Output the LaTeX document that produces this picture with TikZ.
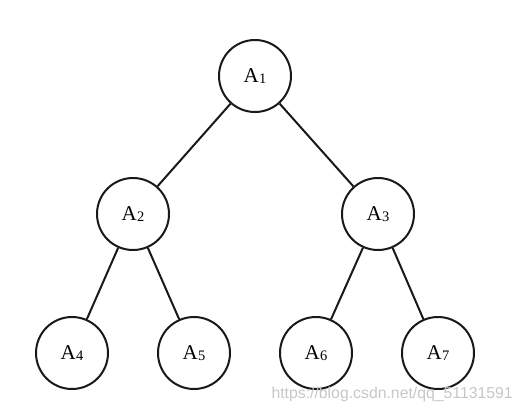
\documentclass[tikz,border=0pt]{standalone}
\usepackage{fontspec}
\setmainfont{Liberation Serif}
\newfontfamily\wmfont{Liberation Sans}
\begin{document}
\begin{tikzpicture}[x=1pt,y=-1pt,
  tnode/.style={circle,draw=black!90,line width=2pt,minimum size=72pt,inner sep=0pt,font=\fontsize{21}{22}\selectfont},
  edge/.style={draw=black!90,line width=2pt}]
\useasboundingbox (0,0) rectangle (521,413);
\newcommand{\lab}[1]{A\kern0.5pt\raisebox{-1.5pt}{\fontsize{14.5}{15}\selectfont #1}}
\node[tnode] (a1) at (255,76) {\lab{1}};
\node[tnode] (a2) at (133,214) {\lab{2}};
\node[tnode] (a3) at (378,214) {\lab{3}};
\node[tnode] (a4) at (72,353) {\lab{4}};
\node[tnode] (a5) at (194,353) {\lab{5}};
\node[tnode] (a6) at (316,353) {\lab{6}};
\node[tnode] (a7) at (438,353) {\lab{7}};
\draw[edge] (a1) -- (a2);
\draw[edge] (a1) -- (a3);
\draw[edge] (a2) -- (a4);
\draw[edge] (a2) -- (a5);
\draw[edge] (a3) -- (a6);
\draw[edge] (a3) -- (a7);
\node[anchor=base east,text=black!22,font=\wmfont\fontsize{15.8}{16}\selectfont,inner sep=0pt] (wm) at (513,398) {https://blog.csdn.net/qq\_51131591};
\end{tikzpicture}
\end{document}
